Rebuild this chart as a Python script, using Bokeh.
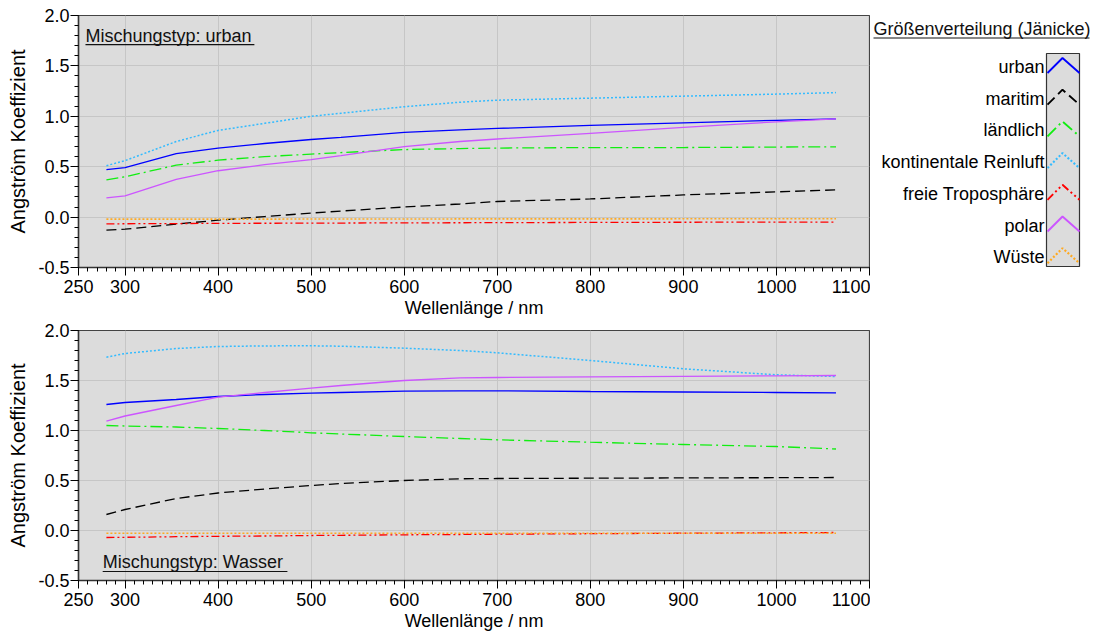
from bokeh.plotting import figure
from bokeh.layouts import column, row
from bokeh.models import Range1d, FixedTicker, Label
from bokeh.core.properties import value
from bokeh.embed import file_html
from bokeh.resources import INLINE

FONT = "Liberation Sans"

# ---------------- data ----------------
wavelength = [280, 300, 355, 400, 450, 500, 532, 600, 660, 700, 800, 900, 1000, 1064]

series_names = ["urban", "maritim", "ländlich", "kontinentale Reinluft",
                "freie Troposphäre", "polar", "Wüste"]

# Mischungstyp: urban
urban_urban = [0.47, 0.49, 0.63, 0.685, 0.73, 0.77, 0.79, 0.84, 0.865, 0.88, 0.91, 0.935, 0.96, 0.975]
urban_maritim = [-0.13, -0.12, -0.07, -0.03, 0.005, 0.04, 0.06, 0.10, 0.13, 0.155, 0.18, 0.22, 0.25, 0.27]
urban_laendlich = [0.37, 0.40, 0.515, 0.565, 0.60, 0.625, 0.64, 0.67, 0.68, 0.685, 0.69, 0.69, 0.695, 0.697]
urban_kontinental = [0.51, 0.56, 0.75, 0.86, 0.93, 1.0, 1.03, 1.095, 1.14, 1.16, 1.18, 1.20, 1.22, 1.235]
urban_freietropo = [-0.067, -0.066, -0.064, -0.062, -0.061, -0.06, -0.059, -0.057, -0.056, -0.055, -0.053, -0.051, -0.05, -0.049]
urban_polar = [0.19, 0.21, 0.375, 0.46, 0.52, 0.57, 0.61, 0.70, 0.75, 0.775, 0.83, 0.89, 0.945, 0.975]
urban_wueste = [-0.02, -0.02, -0.02, -0.02, -0.02, -0.019, -0.019, -0.019, -0.018, -0.018, -0.018, -0.017, -0.017, -0.017]

# Mischungstyp: Wasser
wasser_urban = [1.26, 1.28, 1.31, 1.34, 1.36, 1.373, 1.38, 1.393, 1.397, 1.397, 1.39, 1.385, 1.38, 1.377]
wasser_maritim = [0.16, 0.21, 0.32, 0.375, 0.415, 0.45, 0.47, 0.50, 0.517, 0.52, 0.523, 0.526, 0.528, 0.53]
wasser_laendlich = [1.05, 1.045, 1.035, 1.02, 1.0, 0.977, 0.965, 0.94, 0.92, 0.907, 0.883, 0.86, 0.84, 0.815]
wasser_kontinental = [1.733, 1.77, 1.82, 1.84, 1.846, 1.847, 1.843, 1.823, 1.80, 1.777, 1.70, 1.617, 1.557, 1.54]
wasser_freietropo = [-0.07, -0.068, -0.062, -0.058, -0.055, -0.05, -0.048, -0.043, -0.04, -0.037, -0.032, -0.027, -0.023, -0.02]
wasser_polar = [1.093, 1.145, 1.25, 1.333, 1.38, 1.423, 1.45, 1.50, 1.527, 1.53, 1.537, 1.542, 1.546, 1.55]
wasser_wueste = [-0.027, -0.027, -0.027, -0.027, -0.027, -0.027, -0.027, -0.027, -0.027, -0.027, -0.027, -0.027, -0.027, -0.027]

x_major_ticks = [250, 300, 400, 500, 600, 700, 800, 900, 1000, 1100]
y_major_ticks = [-0.5, 0.0, 0.5, 1.0, 1.5, 2.0]
y_tick_labels = ["-0.5", "0.0", "0.5", "1.0", "1.5", "2.0"]

# ---------------- styles ----------------
series_colors = ["#0000ff", "#000000", "#11ee11", "#33bbff", "#ff0000", "#cc55ff", "#ffaa22"]
series_dashes = ["solid", "10 5", "12 4 2 4", "2 2", "8 3 2 3 2 3", "solid", "2 2"]
series_widths = [1.3, 1.3, 1.3, 1.5, 1.3, 1.3, 1.6]

BG = "#dcdcdc"
GRID = "#c6c6c6"


def make_panel(series, label_text, label_pos, underline, min_top, min_bottom, height):
    p = figure(width=870, height=height, x_range=Range1d(250, 1100), y_range=Range1d(-0.5, 2.0),
               toolbar_location=None, output_backend="svg",
               min_border_left=78, min_border_right=1, min_border_top=min_top,
               min_border_bottom=min_bottom)
    p.background_fill_color = BG
    p.border_fill_color = "white"
    p.outline_line_color = "#444444"
    p.outline_line_width = 1.2

    xt = FixedTicker(ticks=x_major_ticks, minor_ticks=list(range(250, 1101, 10)))
    yt = FixedTicker(ticks=y_major_ticks, minor_ticks=[round(-0.5 + 0.1 * i, 1) for i in range(26)])
    p.xaxis.ticker = xt
    p.yaxis.ticker = yt
    p.xgrid.ticker = FixedTicker(ticks=x_major_ticks)
    p.ygrid.ticker = FixedTicker(ticks=y_major_ticks)
    p.grid.grid_line_color = GRID
    p.grid.grid_line_width = 1
    p.yaxis.major_label_overrides = {t: l for t, l in zip(y_major_ticks, y_tick_labels)}

    for ax in (p.xaxis, p.yaxis):
        ax.axis_line_color = "#333333"
        ax.axis_line_width = 1.5
        ax.major_tick_line_color = "black"
        ax.minor_tick_line_color = "black"
        ax.major_tick_in = 0
        ax.major_tick_out = 8
        ax.minor_tick_in = 0
        ax.minor_tick_out = 4
        ax.major_label_text_font = FONT
        ax.major_label_text_font_size = "18px"
        ax.major_label_text_color = "black"
        ax.axis_label_text_font = FONT
        ax.axis_label_text_font_style = "normal"
        ax.axis_label_text_color = "black"
    p.xaxis.axis_label = "Wellenlänge / nm"
    p.xaxis.axis_label_text_font_size = "18px"
    p.xaxis.major_label_standoff = 4
    p.xaxis.axis_label_standoff = 2
    p.yaxis.axis_label = "Angström Koeffizient"
    p.yaxis.axis_label_text_font_size = "20px"
    p.yaxis.major_label_standoff = 1
    p.yaxis.axis_label_standoff = 6

    for ys, c, d, w in zip(series, series_colors, series_dashes, series_widths):
        p.line(wavelength, ys, line_color=c, line_dash=d, line_width=w)

    lab = Label(x=label_pos[0], y=label_pos[1], text=label_text, text_font=FONT,
                text_font_size="18px", text_color="#111111", text_baseline="middle")
    p.add_layout(lab)
    p.line([underline[0], underline[1]], [underline[2], underline[2]], line_color="#111111", line_width=1.2)
    return p


p1 = make_panel([urban_urban, urban_maritim, urban_laendlich, urban_kontinental,
                 urban_freietropo, urban_polar, urban_wueste],
                "Mischungstyp: urban", (257.5, 1.80), (257.5, 439, 1.712), 15, 53, 320)
p2 = make_panel([wasser_urban, wasser_maritim, wasser_laendlich, wasser_kontinental,
                 wasser_freietropo, wasser_polar, wasser_wueste],
                "Mischungstyp: Wasser", (276, -0.315), (276, 474.5, -0.41), 10, 60, 320)

# ---------------- legend panel (frame is aligned with the upper plot: page rows 15..267) ----------------
leg = figure(width=224, height=320, x_range=Range1d(0, 224), y_range=Range1d(267, 15),
             toolbar_location=None, output_backend="svg", min_border=0)
leg.axis.visible = False
leg.grid.visible = False
leg.outline_line_color = None
leg.background_fill_color = "white"
leg.border_fill_color = "white"

leg.text(x=[3], y=[28.5], text=["Größenverteilung (Jänicke)"], text_font=value(FONT),
         text_font_size="18px", text_color="#111111", text_baseline="middle", text_align="left")
leg.line([3, 219], [37.5, 37.5], line_color="#111111", line_width=1.2)

leg.quad(left=176, right=209, top=53, bottom=266, fill_color=BG, line_color="#333333", line_width=1.2)
row_y = [66.5 + 31.7 * i for i in range(len(series_names))]
leg.text(x=[174] * len(series_names), y=row_y, text=series_names, text_font=value(FONT),
         text_font_size="18px", text_color="black", text_align="right", text_baseline="middle")
for yy, c, d, w in zip(row_y, series_colors, series_dashes, series_widths):
    leg.line([177, 192, 209], [yy + 6, yy - 9, yy + 6], line_color=c, line_dash=d, line_width=w + 0.6)

layout = column(row(p1, leg), p2)
open("out.html", "w").write(file_html(layout, INLINE))
